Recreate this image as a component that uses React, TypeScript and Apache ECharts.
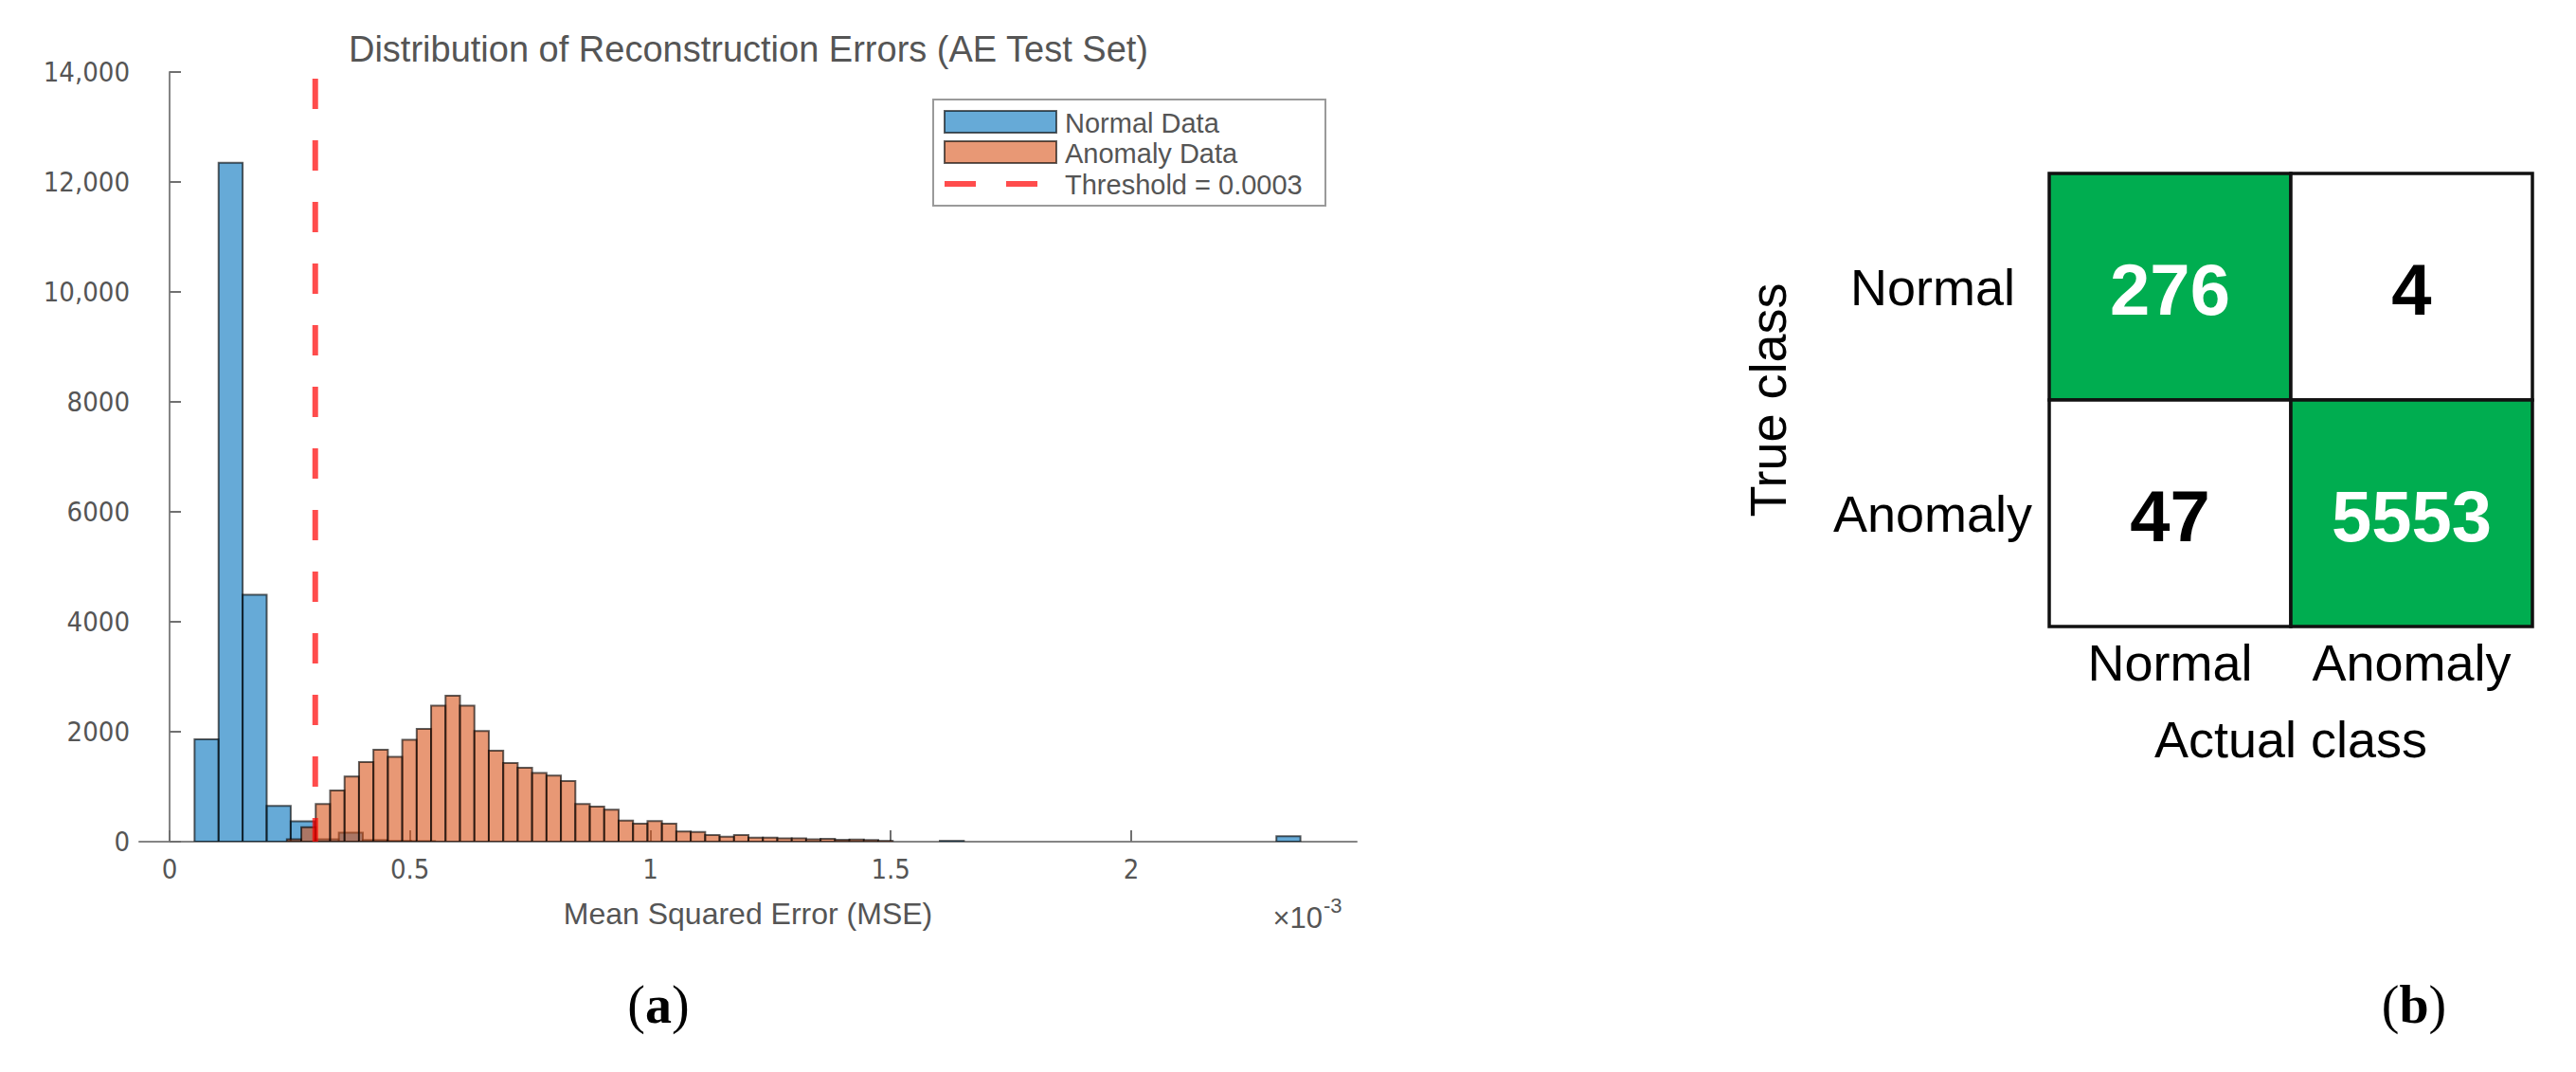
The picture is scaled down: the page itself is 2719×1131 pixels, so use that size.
import React, { useEffect, useRef } from "react";
import * as echarts from "echarts";

// ---------- Data (a): histogram of reconstruction errors (MSE, x10^-3) ----------
const normalBinStart = 0.052;
const normalBinWidth = 0.05;
const normalCounts = [
  1860, 12350, 4490, 650, 370, 45, 165, 30, 15, 10,
  0, 0, 0, 0, 0, 0, 0, 0, 0, 0,
  0, 0, 0, 0, 0, 0, 0, 0, 0, 0,
  0, 15, 0, 0, 0, 0, 0, 0, 0, 0,
  0, 0, 0, 0, 0, 100,
];

const anomalyBinStart = 0.244;
const anomalyBinWidth = 0.03;
const anomalyCounts = [
  45, 265, 684, 933, 1187, 1447, 1673, 1543, 1854, 2052,
  2476, 2657, 2476, 2012, 1656, 1430, 1345, 1249, 1204, 1102,
  684, 639, 582, 384, 328, 373, 328, 187, 175, 119,
  90, 119, 73, 73, 62, 62, 45, 50, 34, 40,
  30, 15,
];

const thresholdValue = 0.303; // x10^-3
const xTicks = [0, 0.5, 1, 1.5, 2];
const X_MIN = -0.063;
const X_MAX = 2.469;
const Y_MAX = 14000;
const Y_INTERVAL = 2000;

// ---------- Data (b): confusion matrix ----------
const actualClasses = ["Normal", "Anomaly"];
const trueClasses = ["Normal", "Anomaly"];
// [actual index, true index, count]
const matrixValues = [
  [0, 0, 276],
  [1, 0, 4],
  [0, 1, 47],
  [1, 1, 5553],
];

const SANS = '"Liberation Sans", Arial, sans-serif';
const NARROW = '"Liberation Sans Narrow", "DejaVu Sans Condensed", "Liberation Sans", sans-serif';
const SERIF = '"Liberation Serif", "Times New Roman", serif';
const GRAY_TEXT = "#555555";

function histData(start: number, width: number, counts: number[]) {
  const out: number[][] = [];
  counts.forEach((c, i) => {
    if (c > 0) out.push([start + i * width, start + (i + 1) * width, c]);
  });
  return out;
}

function histSeries(name: string, data: number[][], fill: string) {
  return {
    type: "custom",
    name,
    xAxisIndex: 0,
    yAxisIndex: 0,
    clip: true,
    encode: { x: [0, 1], y: 2 },
    data,
    renderItem: (_params: any, api: any) => {
      const x0 = api.value(0);
      const x1 = api.value(1);
      const y = api.value(2);
      const p0 = api.coord([x0, y]);
      const p1 = api.coord([x1, 0]);
      return {
        type: "rect",
        shape: { x: p0[0], y: p0[1], width: p1[0] - p0[0], height: p1[1] - p0[1] },
        style: { fill, stroke: "rgba(0,0,0,0.62)", lineWidth: 2 },
      };
    },
  };
}

export default function App() {
  const ref = useRef<HTMLDivElement>(null);

  useEffect(() => {
    document.body.style.margin = "0";
    document.body.style.overflow = "hidden";
    if (!ref.current) return;
    const chart = echarts.init(ref.current, null, { renderer: "svg" });

    const option: any = {
      animation: false,
      backgroundColor: "#ffffff",
      grid: [
        { left: 147, top: 76, width: 1285, height: 812 },
        { left: 2163, top: 183, width: 510, height: 478 },
      ],
      xAxis: [
        {
          gridIndex: 0,
          type: "value",
          min: X_MIN,
          max: X_MAX,
          splitLine: { show: false },
          axisLine: { show: true, onZero: false, lineStyle: { color: "#858585", width: 2 } },
          axisTick: {
            show: true,
            inside: true,
            length: 12,
            customValues: xTicks,
            lineStyle: { color: "#707070", width: 2 },
          },
          axisLabel: {
            customValues: xTicks,
            fontSize: 29,
            fontFamily: NARROW,
            color: GRAY_TEXT,
            margin: 14,
            formatter: (v: number) => String(v),
          },
          name: "Mean Squared Error (MSE)",
          nameLocation: "middle",
          nameGap: 76,
          nameTextStyle: { fontSize: 32, fontFamily: SANS, color: GRAY_TEXT, verticalAlign: "middle" },
        },
        {
          gridIndex: 1,
          type: "category",
          data: actualClasses,
          axisLine: { show: false },
          axisTick: { show: false },
          splitLine: { show: false },
          axisLabel: {
            interval: 0,
            fontSize: 54,
            fontFamily: SANS,
            color: "#000",
            margin: 38,
            verticalAlign: "middle",
          },
          name: "Actual class",
          nameLocation: "middle",
          nameGap: 119,
          nameTextStyle: { fontSize: 54, fontFamily: SANS, color: "#000", verticalAlign: "middle" },
        },
      ],
      yAxis: [
        {
          gridIndex: 0,
          type: "value",
          min: 0,
          max: Y_MAX,
          interval: Y_INTERVAL,
          splitLine: { show: false },
          axisLine: { show: true, lineStyle: { color: "#858585", width: 2 } },
          axisTick: { show: true, inside: true, length: 12, lineStyle: { color: "#707070", width: 2 } },
          axisLabel: {
            fontSize: 29,
            fontFamily: NARROW,
            color: GRAY_TEXT,
            margin: 10,
            formatter: (v: number) => (v >= 10000 ? v.toLocaleString("en-US") : String(v)),
          },
        },
        {
          gridIndex: 1,
          type: "category",
          data: trueClasses,
          inverse: true,
          axisLine: { show: false },
          axisTick: { show: false },
          splitLine: { show: false },
          axisLabel: {
            interval: 0,
            fontSize: 54,
            fontFamily: SANS,
            color: "#000",
            align: "center",
            margin: 123,
          },
          name: "True class",
          nameLocation: "middle",
          nameRotate: 90,
          nameGap: 297,
          nameTextStyle: { fontSize: 54, fontFamily: SANS, color: "#000", verticalAlign: "middle" },
        },
      ],
      series: [
        histSeries("Normal Data", histData(normalBinStart, normalBinWidth, normalCounts), "rgba(0,114,189,0.6)"),
        histSeries("Anomaly Data", histData(anomalyBinStart, anomalyBinWidth, anomalyCounts), "rgba(217,83,25,0.6)"),
        {
          type: "line",
          name: "Threshold = 0.0003",
          xAxisIndex: 0,
          yAxisIndex: 0,
          symbol: "none",
          z: 5,
          data: [
            [thresholdValue, Y_MAX],
            [thresholdValue, 0],
          ],
          lineStyle: { color: "rgba(255,0,0,0.7)", width: 6, type: [32, 33], dashOffset: 58 },
        },
        {
          type: "custom",
          name: "Confusion matrix",
          xAxisIndex: 1,
          yAxisIndex: 1,
          encode: { x: 0, y: 1 },
          data: matrixValues,
          renderItem: (_params: any, api: any) => {
            const col = api.value(0);
            const row = api.value(1);
            const v = api.value(2);
            const c = api.coord([col, row]);
            const s = api.size([1, 1]);
            const diag = col === row;
            return {
              type: "group",
              children: [
                {
                  type: "rect",
                  shape: { x: c[0] - s[0] / 2, y: c[1] - s[1] / 2, width: s[0], height: s[1] },
                  style: { fill: diag ? "#00AD50" : "#ffffff", stroke: "#111", lineWidth: 3.5 },
                },
                {
                  type: "text",
                  style: {
                    text: String(v),
                    x: c[0],
                    y: c[1] + 3,
                    align: "center",
                    verticalAlign: "middle",
                    fontSize: 76,
                    fontWeight: "bold",
                    fontFamily: SANS,
                    fill: diag ? "#ffffff" : "#000000",
                  },
                },
              ],
            };
          },
        },
      ],
      graphic: [
        // Title
        {
          type: "text",
          x: 790,
          y: 52,
          style: {
            text: "Distribution of Reconstruction Errors (AE Test Set)",
            align: "center",
            verticalAlign: "middle",
            fontSize: 38,
            fontFamily: SANS,
            fill: GRAY_TEXT,
          },
        },
        // x10^-3 exponent
        {
          type: "text",
          x: 1396,
          y: 968,
          style: { text: "×10", align: "right", verticalAlign: "middle", fontSize: 31, fontFamily: SANS, fill: GRAY_TEXT },
        },
        {
          type: "text",
          x: 1397,
          y: 955,
          style: { text: "-3", align: "left", verticalAlign: "middle", fontSize: 22, fontFamily: SANS, fill: GRAY_TEXT },
        },
        // Legend
        {
          type: "rect",
          shape: { x: 985, y: 105, width: 414, height: 112 },
          style: { fill: "#ffffff", stroke: "#9a9a9a", lineWidth: 2 },
          z: 10,
        },
        {
          type: "rect",
          shape: { x: 997, y: 117, width: 118, height: 23 },
          style: { fill: "rgba(0,114,189,0.6)", stroke: "rgba(0,0,0,0.62)", lineWidth: 2 },
          z: 11,
        },
        {
          type: "rect",
          shape: { x: 997, y: 149, width: 118, height: 23 },
          style: { fill: "rgba(217,83,25,0.6)", stroke: "rgba(0,0,0,0.62)", lineWidth: 2 },
          z: 11,
        },
        {
          type: "polyline",
          shape: { points: [[997, 194], [1095, 194]] },
          style: { stroke: "rgba(255,0,0,0.7)", lineWidth: 6, lineDash: [33, 32] },
          z: 11,
        },
        {
          type: "text",
          x: 1124,
          y: 130,
          z: 11,
          style: { text: "Normal Data", verticalAlign: "middle", fontSize: 29, fontFamily: SANS, fill: GRAY_TEXT },
        },
        {
          type: "text",
          x: 1124,
          y: 162,
          z: 11,
          style: { text: "Anomaly Data", verticalAlign: "middle", fontSize: 29, fontFamily: SANS, fill: GRAY_TEXT },
        },
        {
          type: "text",
          x: 1124,
          y: 195,
          z: 11,
          style: { text: "Threshold = 0.0003", verticalAlign: "middle", fontSize: 29, fontFamily: SANS, fill: GRAY_TEXT },
        },
        // Panel labels
        {
          type: "text",
          x: 695,
          y: 1060,
          style: {
            text: "{p|(}{b|a}{p|)}",
            align: "center",
            verticalAlign: "middle",
            rich: {
              p: { fontSize: 56, fontFamily: SERIF, fill: "#000", fontWeight: "normal" },
              b: { fontSize: 56, fontFamily: SERIF, fill: "#000", fontWeight: "bold" },
            },
          },
        },
        {
          type: "text",
          x: 2548,
          y: 1060,
          style: {
            text: "{p|(}{b|b}{p|)}",
            align: "center",
            verticalAlign: "middle",
            rich: {
              p: { fontSize: 56, fontFamily: SERIF, fill: "#000", fontWeight: "normal" },
              b: { fontSize: 56, fontFamily: SERIF, fill: "#000", fontWeight: "bold" },
            },
          },
        },
      ],
    };

    chart.setOption(option);
    return () => chart.dispose();
  }, []);

  return <div ref={ref} style={{ width: 2719, height: 1131 }} />;
}
